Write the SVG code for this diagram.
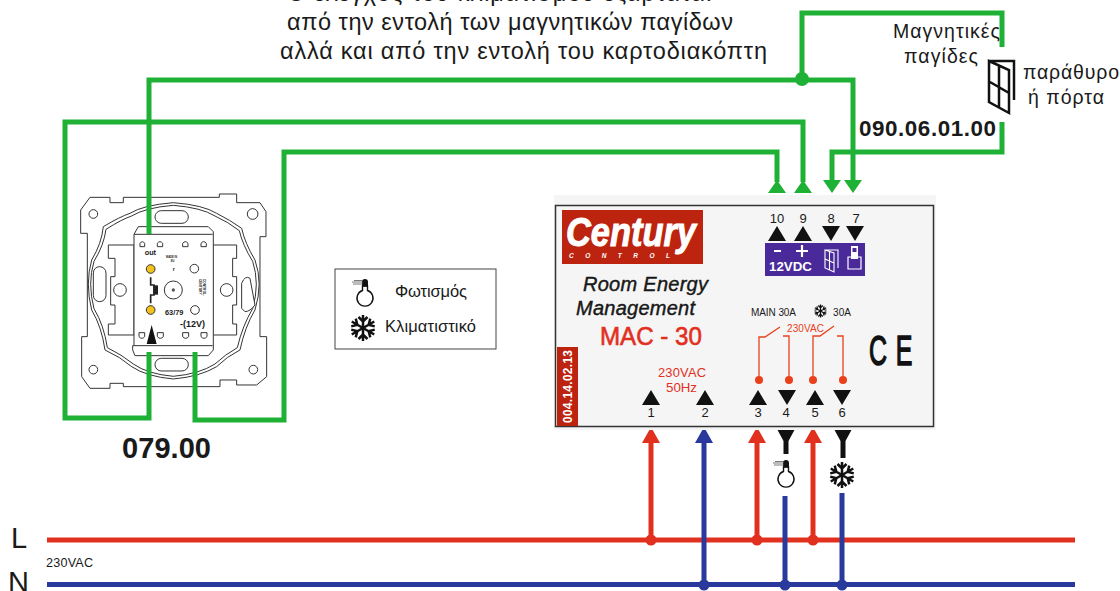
<svg xmlns="http://www.w3.org/2000/svg" width="1120" height="591" viewBox="0 0 1120 591">
<style>
text{font-family:"Liberation Sans",Arial,sans-serif;fill:#1a1a1a}
.g{fill:none;stroke:#1eb136;stroke-width:5}
.r{fill:none;stroke:#e2301f;stroke-width:5}
.b{fill:none;stroke:#2a3a9c;stroke-width:5}
.o{fill:none;stroke:#e8401c;stroke-width:1.3}
.sw{fill:#fff;stroke:#333;stroke-width:3}
.swl{fill:none;stroke:#333;stroke-width:3}
.flake{stroke:#111;fill:none}
</style>
<defs>
<symbol id="flake" viewBox="-13 -13 26 26" overflow="visible">
<g class="flake" stroke-width="2.500">
<path d="M0-13V13M-4.500-11L0-6.500L4.500-11M-4.500 11L0 6.500L4.500 11"/>
<path d="M0-13V13M-4.500-11L0-6.500L4.500-11M-4.500 11L0 6.500L4.500 11" transform="rotate(60)"/>
<path d="M0-13V13M-4.500-11L0-6.500L4.500-11M-4.500 11L0 6.500L4.500 11" transform="rotate(120)"/>
</g>
</symbol>
<symbol id="bulb" viewBox="-13 -13 26 26" overflow="visible">
<path d="M-2.500-6V-1.500A8 8 0 1 0 2.500-1.500V-6Z" fill="#fff" stroke="#111" stroke-width="1.400"/>
<path d="M-3-5.500V-10A3 3 0 0 1 3-10V-5.500Z" fill="#111"/>
<path d="M-13-10H-2M-12-8H-2M-11-11.500H-2" stroke="#555" stroke-width="0.800"/>
</symbol>
<symbol id="door" viewBox="0 0 27 53" overflow="visible">
<path d="M1 1H26V40M1 1L21 10V53L1 42ZM2 22L21 33M11 6V47" fill="none" stroke="#111" stroke-width="2.500"/>
</symbol>
</defs>

<g id="title">
<text x="287" y="1" font-size="23.500" textLength="424">Ο έλεγχος του κλιματισμού εξαρτάται</text>
<text x="287" y="30" font-size="23.500" textLength="446">από την εντολή των μαγνητικών παγίδων</text>
<text x="280" y="59" font-size="23.500" textLength="487">αλλά και από την εντολή του καρτοδιακόπτη</text>
</g>

<g id="switch-079" transform="translate(60 180) scale(.3333)">
<path class="sw" d="M90 52H150V68H190V52H478V42H530V68H600L618 95V170H600V470H620V590L590 615H530V600H480V620H190V610H150V625H90L65 590V470H82V160H62V90Z"/>
<path class="sw" d="M130 140Q180 110 210 100Q250 75 340 68Q430 75 470 100Q510 120 545 145Q555 190 585 240Q610 310 585 390Q555 440 540 510Q500 530 470 560Q420 590 340 597Q260 590 215 560Q180 530 135 510Q125 440 95 390Q75 310 95 240Q125 190 130 140Z"/>
<path class="swl" d="M138 148Q185 118 215 108Q255 83 340 76Q425 83 465 108Q505 126 538 152Q548 195 578 244Q600 310 578 386Q548 436 532 503Q495 524 465 552Q418 582 340 589Q262 582 220 552Q185 524 142 503Q132 436 102 386Q82 310 102 244Q132 195 138 148Z"/>
<circle class="sw" cx="100" cy="102" r="13"/><circle class="sw" cx="578" cy="102" r="16"/>
<circle class="sw" cx="100" cy="569" r="13"/><circle class="sw" cx="580" cy="569" r="13"/>
<rect class="sw" x="285" y="92" width="100" height="38" rx="19"/>
<rect class="sw" x="285" y="535" width="100" height="38" rx="19"/>
<rect class="sw" x="100" y="260" width="38" height="105" rx="19"/>
<path class="sw" d="M545 385V310Q555 285 570 295L585 375Q570 395 555 395Z"/>
<path class="sw" d="M145 195H222V465H145V432H165V375H152V290H165V235H145Z"/>
<path class="sw" d="M458 195H530V235H518V290H530V375H518V432H530V465H458Z"/>
<circle class="sw" cx="180" cy="330" r="19"/><circle class="sw" cx="500" cy="330" r="19"/>
<path class="sw" d="M222 163L235 140H445L460 155V510L445 527H225L218 510V497H222Z"/>
<path class="swl" d="M222 163H458M222 497H458"/>
<path class="swl" d="M240 200V190Q247 180 254 190V200ZM292 200V190Q300 180 308 190V200ZM368 200V190Q376 180 384 190V200ZM423 200V190Q431 180 439 190V200ZM237 458H254V470Q246 480 237 470ZM292 458H310V470Q301 480 292 470ZM368 458H386V470Q377 480 368 470ZM423 458H441V470Q432 480 423 470Z" stroke-width="2.500"/>
<circle cx="272" cy="267" r="13" fill="#f5c21b" stroke="#333" stroke-width="3"/>
<circle cx="272" cy="390" r="13" fill="#f5c21b" stroke="#333" stroke-width="3"/>
<circle class="sw" cx="403" cy="266" r="13"/><circle class="sw" cx="405" cy="390" r="13"/>
<circle class="sw" cx="340" cy="330" r="27"/><circle cx="340" cy="330" r="5" fill="#555"/>
<path d="M272 292V315H282V345H272V370" fill="none" stroke="#222" stroke-width="5"/><rect x="280" y="316" width="14" height="28" fill="#222"/>
<path d="M275 435L290 492H260Z" fill="#111"/>
<text x="254" y="226" font-size="22" font-weight="bold">out</text>
<text x="318" y="235" font-size="8" font-weight="bold">MADE IN</text>
<text x="332" y="247" font-size="8" font-weight="bold">EU</text>
<text x="338" y="272" font-size="16" font-weight="bold">r</text>
<text x="315" y="406" font-size="22" font-weight="bold">63/79</text>
<text x="360" y="440" font-size="27" font-weight="bold">-(12V)</text>
<text transform="translate(416 296) rotate(90)" font-size="10" font-weight="bold">CENTURY</text>
<text transform="translate(428 296) rotate(90)" font-size="10" font-weight="bold">CONTROL.</text>
</g>

<g id="connectors">
<path class="g" d="M149 234V80H853V182"/>
<circle cx="802" cy="79" r="7" fill="#1eb136"/>
<path class="g" d="M802 79V13H1002V47"/>
<path class="g" d="M149 352V418H65V122H803V182"/>
<path class="g" d="M195 352V420H284V152H777V182"/>
<path class="g" d="M832 182V152H1002V122"/>
<path d="M768 193L777 180L786 193ZM794 193L803 180L812 193ZM823 180L832 193L841 180ZM844 180L853 193L862 180Z" fill="#1eb136"/>

<path class="r" d="M47 540H1075"/>
<path class="b" d="M47 584.500H1075"/>
<path class="r" d="M651 540V440M757 540V440M813 540V440"/>
<path class="b" d="M704 585V440"/>
<path d="M642 443L651 427L660 443ZM748 443L757 427L766 443ZM804 443L813 427L822 443Z" fill="#e2301f"/>
<path d="M695 443L704 427L713 443Z" fill="#2a3a9c"/>
<path class="b" d="M785 496V585M842 493V585"/>
<g fill="#e2301f"><circle cx="651" cy="540" r="5.500"/><circle cx="757" cy="540" r="5.500"/><circle cx="813" cy="540" r="5.500"/></g>
<g fill="#2a3a9c"><circle cx="704" cy="585" r="5.500"/><circle cx="785" cy="585" r="5.500"/><circle cx="842" cy="585" r="5.500"/></g>
<path d="M777 429H795L788.500 441V454H783.500V441ZM834 429H852L845.500 441V458H840.500V441Z" fill="#111"/>
</g>

<g id="legend">
<rect x="335" y="269" width="161" height="80" fill="#fff" stroke="#444" stroke-width="1"/>
<use href="#bulb" x="352" y="279" width="26" height="26"/>
<use href="#flake" x="350" y="315" width="26" height="26"/>
<text x="395" y="297" font-size="16.500" textLength="72">Φωτισμός</text>
<text x="385" y="332" font-size="16.500" textLength="91">Κλιματιστικό</text>
</g>

<g id="device-mac30">
<rect x="554" y="195" width="382" height="235" fill="#f5f5f5"/>
<rect x="555.500" y="205.500" width="378" height="221" fill="#f5f5f5" stroke="#333" stroke-width="1.500"/>
<rect x="562" y="210" width="141" height="54" fill="#bd2410"/>
<text x="566" y="246" font-size="40" font-weight="bold" font-style="italic" textLength="130" lengthAdjust="spacingAndGlyphs" stroke="#fff" stroke-width="1" style="fill:#fff">Century</text>
<text x="569" y="258" font-size="6.500" font-weight="bold" font-style="italic" textLength="101" style="fill:#fff">CONTROL</text>
<text x="583" y="291" font-size="20" font-style="italic" textLength="125" stroke="#111" stroke-width=".4">Room Energy</text>
<text x="576" y="315" font-size="20" font-style="italic" textLength="119" stroke="#111" stroke-width=".4">Management</text>
<text x="600" y="345" font-size="25" textLength="102" lengthAdjust="spacingAndGlyphs" stroke="#e2301f" stroke-width=".6" style="fill:#e2301f">MAC - 30</text>
<rect x="557" y="347" width="21" height="79" fill="#bd2410"/>
<text transform="translate(572 423) rotate(-90)" font-size="11.900" font-weight="bold" textLength="73" style="fill:#fff">004.14.02.13</text>
<text x="658" y="377" font-size="12.900" textLength="48" style="fill:#e2301f">230VAC</text>
<text x="666" y="392" font-size="13.300" textLength="31" style="fill:#e2301f">50Hz</text>
<g fill="#111">
<path d="M642 405L651 390L660 405ZM696 405L705 390L714 405ZM749 405L758 390L767 405ZM778 390L787 405L796 390ZM806 405L815 390L824 405ZM833 390L842 405L851 390Z"/>
<path d="M768 241L777 226L786 241ZM794 241L803 226L812 241ZM822 226L831 241L840 226ZM846 226L855 241L864 226Z"/>
</g>
<g font-size="13" text-anchor="middle">
<text x="651" y="417">1</text><text x="705" y="417">2</text><text x="758" y="417">3</text><text x="786" y="417">4</text><text x="815" y="417">5</text><text x="842" y="417">6</text>
<text x="777" y="223">10</text><text x="803" y="223">9</text><text x="831" y="223">8</text><text x="856" y="223">7</text>
</g>
<rect x="765" y="243" width="100" height="33" fill="#4a2a9a"/>
<path d="M774 251H781M796 251H808M802 245V257" stroke="#fff" stroke-width="2.200" fill="none"/>
<text x="769" y="271" font-size="13" font-weight="bold" textLength="43" lengthAdjust="spacingAndGlyphs" style="fill:#fff">12VDC</text>
<path d="M825 250H838V268M825 250L834 253V272L825 268ZM825 259L834 263M829.500 252V270" fill="none" stroke="#fff" stroke-width="1.100"/>
<path d="M848 257H861V269H848Z" fill="none" stroke="#fff" stroke-width="1.200"/>
<rect x="851" y="246" width="7" height="13" fill="#fff"/><rect x="852.500" y="248" width="4" height="4" fill="#4a2a9a"/>
<text x="751" y="316" font-size="10" textLength="45">MAIN 30A</text>
<use href="#flake" x="814" y="304.500" width="13" height="13"/>
<text x="833" y="316" font-size="10" textLength="18">30A</text>
<text x="787" y="332" font-size="10" textLength="37" style="fill:#e8401c">230VAC</text>
<path class="o" d="M759 380V337H765L780 327M789 380V336H783M813 380V336H820L834 326M843 380V336H837"/>
<g fill="#e8401c"><circle cx="759" cy="380" r="4"/><circle cx="789" cy="380" r="4"/><circle cx="813" cy="380" r="4"/><circle cx="843" cy="380" r="4"/></g>
<text transform="translate(869 365) scale(.58 1)" font-size="43" letter-spacing="15" stroke="#111" stroke-width="1.500" style="fill:#111">CE</text>
</g>

<g id="load-light"><use href="#bulb" x="773" y="460" width="26" height="26"/></g>
<g id="load-ac"><use href="#flake" x="829" y="462" width="26" height="26"/></g>

<g id="magnetic-trap">
<rect x="988" y="47" width="30" height="75" fill="#fff"/>
<use href="#door" x="988" y="60" width="27" height="53"/>
<text x="893" y="38" font-size="19.500" textLength="107">Μαγνητικές</text>
<text x="904" y="63" font-size="19.500" textLength="74">παγίδες</text>
<text x="1023" y="79" font-size="19.500" textLength="96">παράθυρο</text>
<text x="1028" y="104" font-size="19.500" textLength="76">ή πόρτα</text>
<text x="859" y="136" font-size="22.400" font-weight="bold" textLength="137">090.06.01.00</text>
</g>

<g id="labels">
<text x="122" y="458" font-size="29" font-weight="bold" textLength="89">079.00</text>
<text x="11" y="548" font-size="29">L</text>
<text x="8" y="592" font-size="29">N</text>
<text x="46" y="567" font-size="12.600" textLength="47">230VAC</text>
</g>
</svg>
